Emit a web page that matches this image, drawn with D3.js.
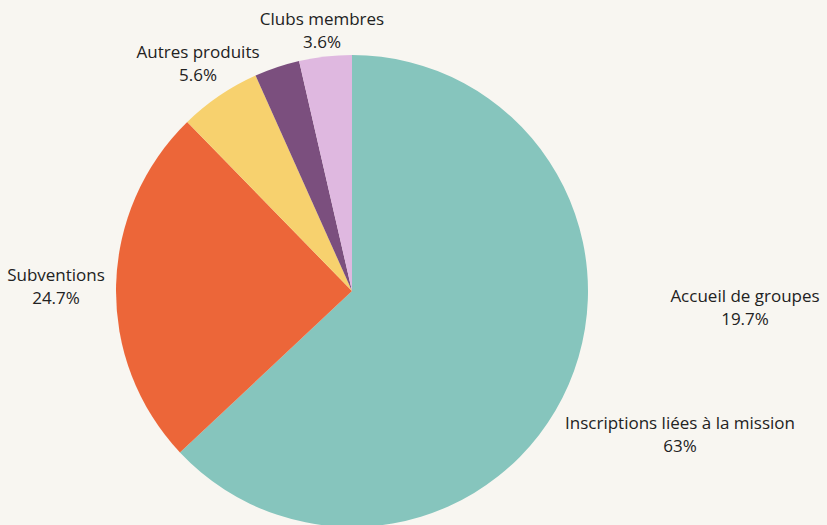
<!DOCTYPE html>
<html>
<head>
<meta charset="utf-8">
<script src="https://cdn.jsdelivr.net/npm/d3@7"></script>
<style>
  body { margin: 0; background: #f8f6f1; }
  #myPlot { width: 827px; height: 525px; }
  text { font-family: "Open Sans", Lato, sans-serif; font-size: 17px; font-weight: 400; fill: #222; }
</style>
</head>
<body>
<div id="myPlot"></div>
<script>
// Data
const categories = ["Inscriptions liées à la mission", "Subventions", "Autres produits", "Accueil de groupes", "Clubs membres"];
const values = [63, 24.7, 5.6, 3.1, 3.6];
const pctLabels = ["63%", "24.7%", "5.6%", "19.7%", "3.6%"];
const colors = ["#86c5bd", "#ec6639", "#f7d16e", "#7b4f7e", "#dfb8e0"];

// Set Dimensions
const xSize = 827;
const ySize = 525;
const cx = 352, cy = 291, radius = 236;

// label anchors (centre x, first baseline), relative to pie centre
const labelPos = [[328, 138], [-296, -10], [-154, -233], [393, 11], [-30, -266]];

const svg = d3.select("#myPlot")
  .append("svg")
  .attr("width", xSize)
  .attr("height", ySize);

const g = svg.append("g")
  .attr("transform", "translate(" + cx + "," + cy + ")");

const pie = d3.pie().sort(null).value(function (d) { return d; });
const arc = d3.arc().innerRadius(0).outerRadius(radius);

// Slices
g.selectAll("path")
  .data(pie(values)).enter()
  .append("path")
  .attr("d", arc)
  .style("fill", function (d, i) { return colors[i]; });

// Labels
const lab = g.selectAll("text.lab")
  .data(categories).enter()
  .append("text")
  .attr("class", "lab")
  .attr("text-anchor", "middle")
  .attr("transform", function (d, i) { return "translate(" + labelPos[i][0] + "," + labelPos[i][1] + ")"; });

lab.append("tspan").attr("x", 0).attr("y", 0).text(function (d) { return d; });
lab.append("tspan").attr("x", 0).attr("y", 23).text(function (d, i) { return pctLabels[i]; });
</script>
</body>
</html>
